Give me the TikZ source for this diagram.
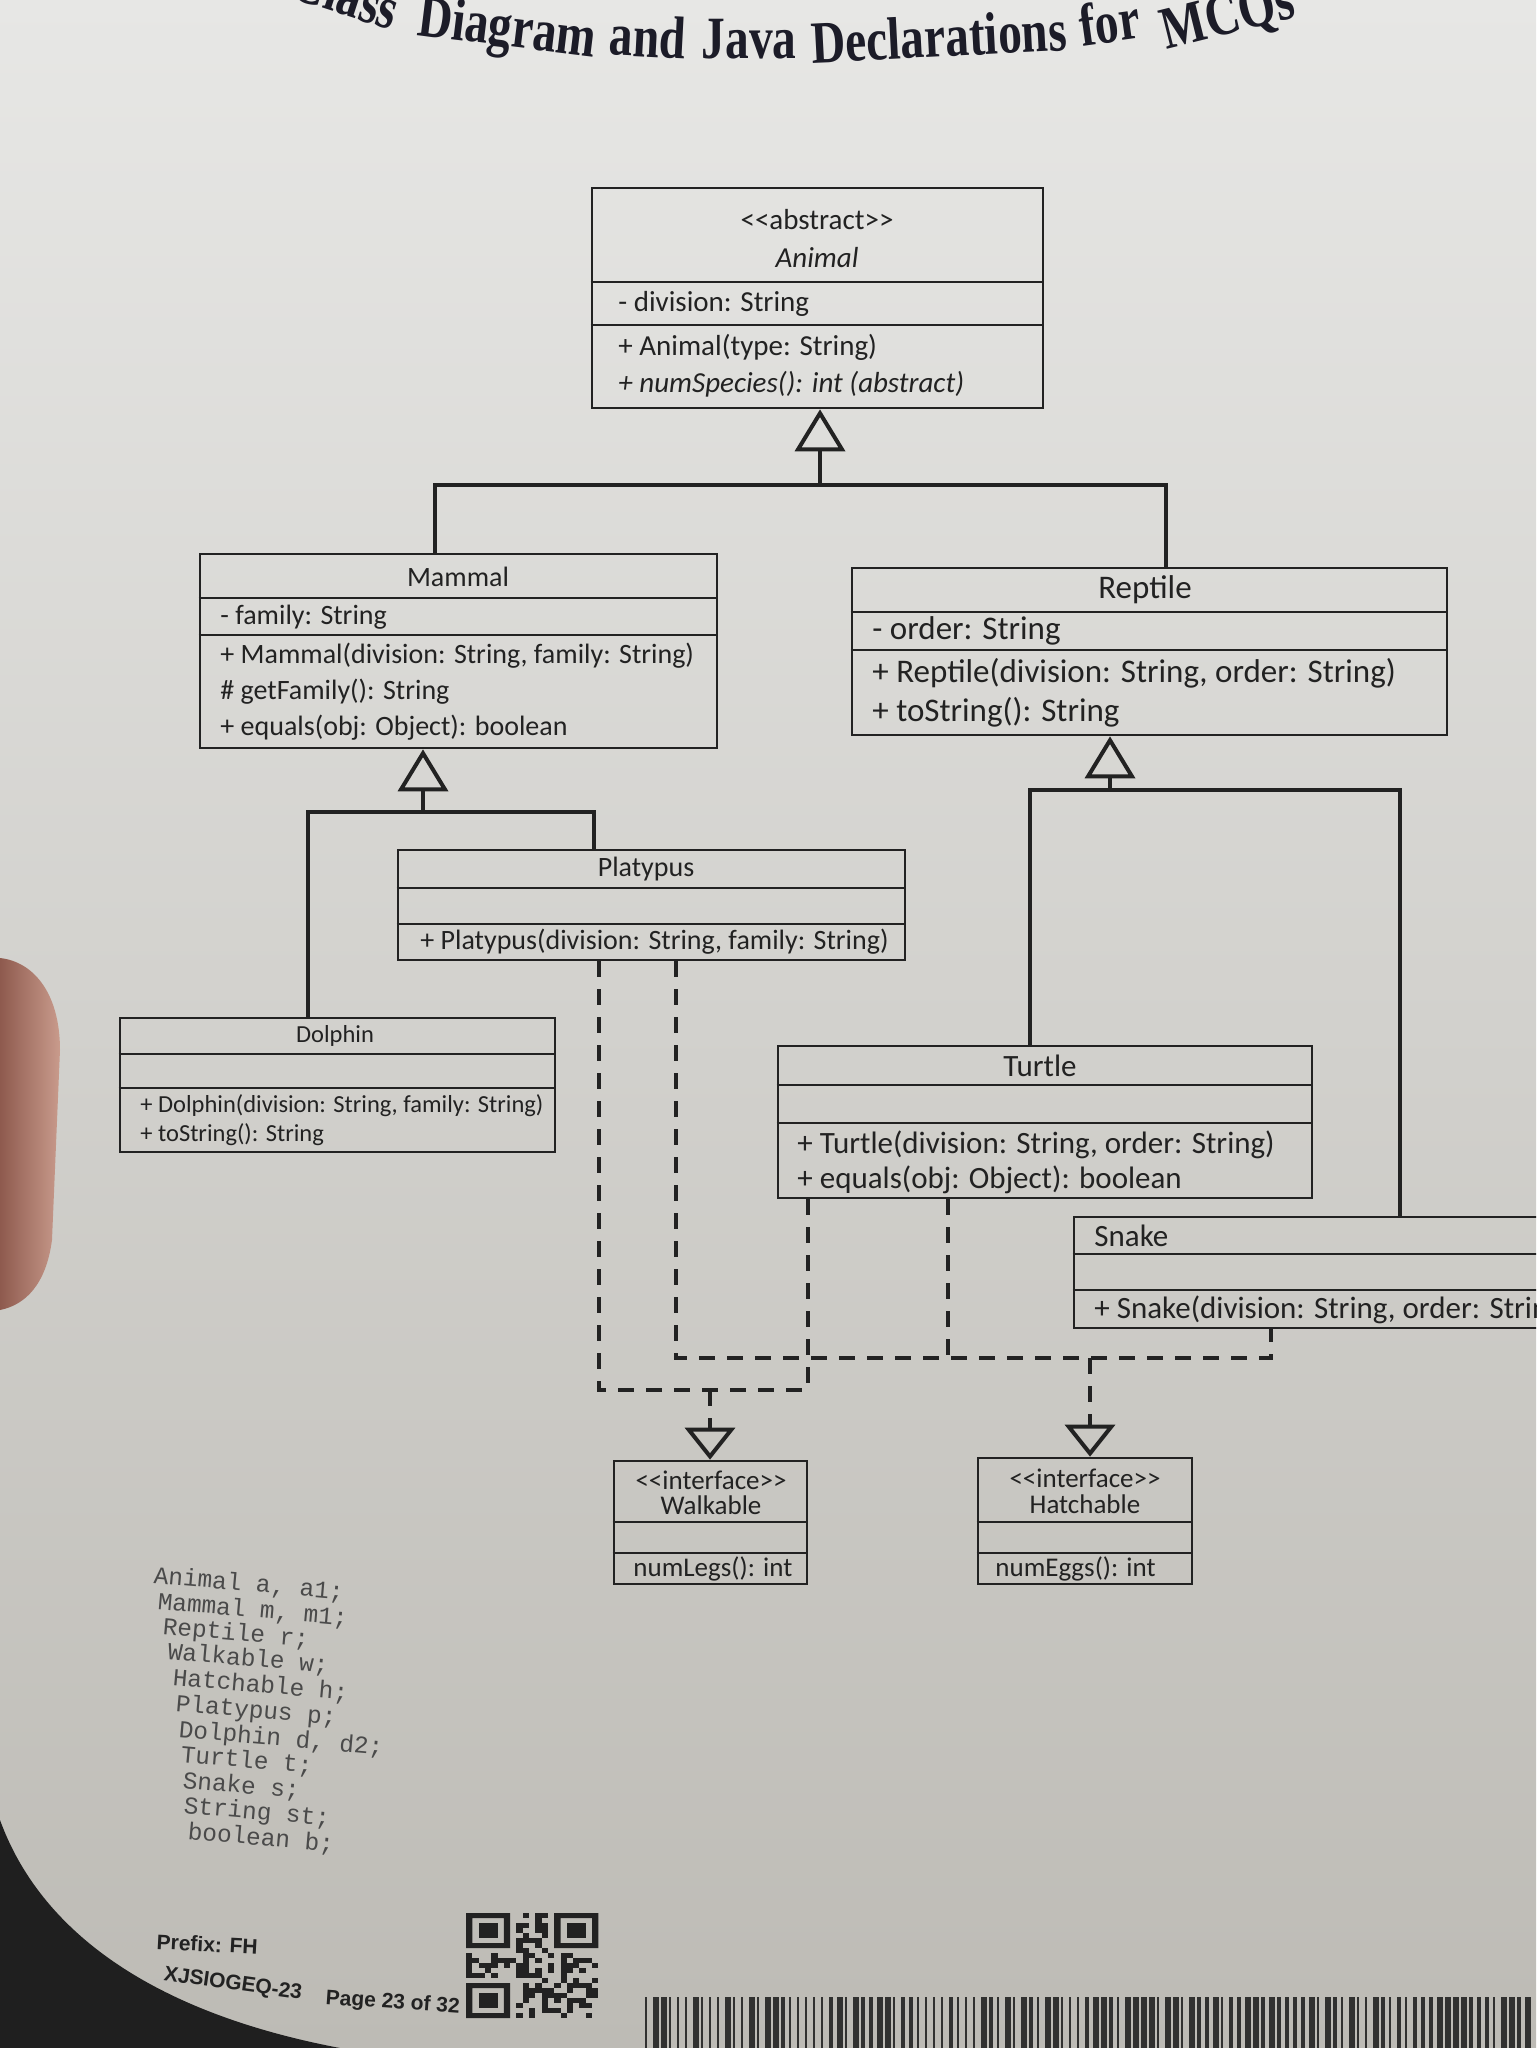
\documentclass[tikz,border=0pt]{standalone}
\usepackage{fontspec}
\setmainfont{Carlito}
\newfontfamily\titlefont[FakeStretch=0.79]{Liberation Serif}
\newfontfamily\footfont{Liberation Sans}
\newfontfamily\declfont{Liberation Mono}
\usetikzlibrary{arrows.meta,fit,calc}
\definecolor{ink}{HTML}{222222}
\definecolor{decl}{HTML}{4A4A4A}
\definecolor{paperTop}{HTML}{E7E7E5}
\definecolor{paperMid}{HTML}{DAD9D6}
\definecolor{paperBot}{HTML}{BDBBB5}
\definecolor{skinA}{HTML}{8E5A4E}
\definecolor{skinB}{HTML}{C99B8C}
\definecolor{titleink}{HTML}{1C1C28}
\newcommand\szAn{\fontsize{14.5pt}{17pt}\selectfont}
\newcommand\szMa{\fontsize{14pt}{17pt}\selectfont}
\newcommand\szRe{\fontsize{16.5pt}{19pt}\selectfont}
\newcommand\szPl{\fontsize{14pt}{17pt}\selectfont}
\newcommand\szDo{\fontsize{12.25pt}{15pt}\selectfont}
\newcommand\szTu{\fontsize{15.5pt}{18pt}\selectfont}
\newcommand\szIf{\fontsize{13.5pt}{16pt}\selectfont}
\newcommand\szTitle{\titlefont\bfseries\fontsize{30pt}{32pt}\selectfont}
\newcommand\szFoot{\footfont\bfseries\fontsize{10.5pt}{12pt}\selectfont}
\newcommand\szDecl{\declfont\fontsize{12.2pt}{14pt}\selectfont}
\newcommand\stereo[1]{<\kern0pt<#1>\kern0pt>}
\tikzset{
  cls/.style={draw=ink, line width=1.35pt, inner sep=0pt, fit={#1}},
  cline/.style={draw=ink, line width=1.35pt},
  conn/.style={draw=ink, line width=2pt},
  gen/.style={conn, arrows={-Triangle[open, length=21pt, width=25pt]}},
  real/.style={conn, dash pattern=on 8pt off 6pt},
  realtip/.style={arrows={-Triangle[open, length=16pt, width=25pt]}},
  row/.style={anchor=west, inner sep=0pt, text=ink},
  nm/.style={inner sep=0pt, text=ink},
  ttl/.style={anchor=base, inner sep=0pt, text=titleink, font=\szTitle},
  foot/.style={anchor=base west, inner sep=0pt, text=ink, font=\szFoot},
  dcl/.style={anchor=base west, inner sep=0pt, text=decl, font=\szDecl, rotate=-5},
}
\newcommand\sepline[2]{\draw[cline] (#1.west |- 0,#2) -- (#1.east |- 0,#2);}
\begin{document}
\begin{tikzpicture}[x=0.5pt,y=-0.5pt]
\useasboundingbox (0,0) rectangle (1536,2048);
\begin{scope}
\clip (0,0) rectangle (1536,2048);
% paper
\shade[top color=paperTop, middle color=paperMid, bottom color=paperBot] (0,0) rectangle (1536,2048);
% finger at left edge
\shade[left color=skinA, right color=skinB] (0,958) .. controls (35,962) and (60,995) .. (60,1050)
  -- (52,1240) .. controls (46,1285) and (25,1305) .. (0,1310) -- cycle;
% dark corner bottom left
\fill[black!88] (0,1820) .. controls (40,1930) and (150,2012) .. (340,2048) -- (0,2048) -- cycle;

% ---------- title ----------
\node[ttl, rotate=-18] (t1) at (340,14) {Class};
\node[ttl, rotate=-7] (t2) at (505,46) {Diagram};
\node[ttl, rotate=-3] (t3) at (647,57) {and};
\node[ttl] (t4) at (749,59) {Java};
\node[ttl, rotate=3] (t5) at (940,57) {Declarations};
\node[ttl, rotate=8] (t6) at (1112,42) {for};
\node[ttl, rotate=14] (t7) at (1232,33) {MCQs};

% ---------- Animal ----------
\node[cls={(592,188) (1043,408)}] (animal) {};
\node[nm, font=\szAn] (an-st) at (817,220) {\stereo{abstract}};
\node[nm, font=\szAn\itshape] (an-nm) at (817,258) {Animal};
\sepline{animal}{282}
\node[row, font=\szAn] (an-a1) at (618,304) {- division: String};
\sepline{animal}{325}
\node[row, font=\szAn] (an-o1) at (618,347) {+ Animal(type: String)};
\node[row, font=\szAn\itshape] (an-o2) at (618,384) {+ numSpecies(): int (abstract)};

% ---------- Mammal ----------
\node[cls={(200,554) (717,748)}] (mammal) {};
\node[nm, font=\szMa] (ma-nm) at (458,577) {Mammal};
\sepline{mammal}{598}
\node[row, font=\szMa] (ma-a1) at (220,617) {- family: String};
\sepline{mammal}{635}
\node[row, font=\szMa] (ma-o1) at (220,656) {+ Mammal(division: String, family: String)};
\node[row, font=\szMa] (ma-o2) at (220,692) {\# getFamily(): String};
\node[row, font=\szMa] (ma-o3) at (220,728) {+ equals(obj: Object): boolean};

% ---------- Reptile ----------
\node[cls={(852,568) (1447,735)}] (reptile) {};
\node[nm, font=\szRe] (re-nm) at (1145,590) {Reptile};
\sepline{reptile}{612}
\node[row, font=\szRe] (re-a1) at (872,631) {- order: String};
\sepline{reptile}{650}
\node[row, font=\szRe] (re-o1) at (872,673) {+ Reptile(division: String, order: String)};
\node[row, font=\szRe] (re-o2) at (872,712) {+ toString(): String};

% ---------- Platypus ----------
\node[cls={(398,850) (905,960)}] (platypus) {};
\node[nm, font=\szPl] (pl-nm) at (646,869) {Platypus};
\sepline{platypus}{888}
\sepline{platypus}{924}
\node[row, font=\szPl] (pl-o1) at (420,942) {+ Platypus(division: String, family: String)};

% ---------- Dolphin ----------
\node[cls={(120,1018) (555,1152)}] (dolphin) {};
\node[nm, font=\szDo] (do-nm) at (335,1036) {Dolphin};
\sepline{dolphin}{1054}
\sepline{dolphin}{1088}
\node[row, font=\szDo] (do-o1) at (140,1106) {+ Dolphin(division: String, family: String)};
\node[row, font=\szDo] (do-o2) at (140,1135) {+ toString(): String};

% ---------- Turtle ----------
\node[cls={(778,1046) (1312,1198)}] (turtle) {};
\node[nm, font=\szTu] (tu-nm) at (1040,1066) {Turtle};
\sepline{turtle}{1085}
\sepline{turtle}{1123}
\node[row, font=\szTu] (tu-o1) at (797,1145) {+ Turtle(division: String, order: String)};
\node[row, font=\szTu] (tu-o2) at (797,1180) {+ equals(obj: Object): boolean};

% ---------- Snake ----------
\node[cls={(1074,1217) (1660,1328)}] (snake) {};
\node[row, font=\szTu] (sn-nm) at (1094,1236) {Snake};
\sepline{snake}{1254}
\sepline{snake}{1290}
\node[row, font=\szTu] (sn-o1) at (1094,1310) {+ Snake(division: String, order: String)};

% ---------- Walkable ----------
\node[cls={(614,1461) (807,1584)}] (walkable) {};
\node[nm, font=\szIf] (wa-st) at (711,1480) {\stereo{interface}};
\node[nm, font=\szIf] (wa-nm) at (711,1505) {Walkable};
\sepline{walkable}{1522}
\sepline{walkable}{1553}
\node[row, font=\szIf] (wa-o1) at (633,1569) {numLegs(): int};

% ---------- Hatchable ----------
\node[cls={(978,1458) (1192,1584)}] (hatchable) {};
\node[nm, font=\szIf] (ha-st) at (1085,1478) {\stereo{interface}};
\node[nm, font=\szIf] (ha-nm) at (1085,1504) {Hatchable};
\sepline{hatchable}{1522}
\sepline{hatchable}{1553}
\node[row, font=\szIf] (ha-o1) at (995,1569) {numEggs(): int};

% ---------- generalisations ----------
\coordinate (gA) at (820,485);
\coordinate (gAl) at (435,485);
\coordinate (gAr) at (1166,485);
\draw[conn] (gAl |- mammal.north) -- (gAl) -- (gAr) -- (gAr |- reptile.north);
\draw[gen] (gA) -- (gA |- animal.south);

\coordinate (gM) at (423,812);
\coordinate (gMl) at (308,812);
\coordinate (gMr) at (594,812);
\draw[conn] (gMl |- dolphin.north) -- (gMl) -- (gMr) -- (gMr |- platypus.north);
\draw[gen] (gM) -- (gM |- mammal.south);

\coordinate (gR) at (1110,790);
\coordinate (gRl) at (1030,790);
\coordinate (gRr) at (1400,790);
\draw[conn] (gRl |- turtle.north) -- (gRl) -- (gRr) -- (gRr |- snake.north);
\draw[gen] (gR) -- (gR |- reptile.south);

% ---------- realisations ----------
\coordinate (wJ) at (710,1390);
\coordinate (hJ) at (1090,1358);
\coordinate (pW) at (599,0);
\coordinate (pH) at (676,0);
\coordinate (tW) at (808,0);
\coordinate (tH) at (948,0);
\coordinate (sH) at (1271,0);
\draw[real] (pW |- platypus.south) -- (pW |- wJ) -- (tW |- wJ);
\draw[real] (tW |- turtle.south) -- (tW |- wJ);
\draw[real, realtip] (wJ) -- (wJ |- walkable.north);
\draw[real] (pH |- platypus.south) -- (pH |- hJ) -- (sH |- hJ) -- (sH |- snake.south);
\draw[real] (tH |- turtle.south) -- (tH |- hJ);
\draw[real, realtip] (hJ) -- (hJ |- hatchable.north);

% ---------- declarations ----------
\node[dcl] (d1) at (153,1583) {Animal a, a1;};
\node[dcl] (d2) at (157,1609) {Mammal m, m1;};
\node[dcl] (d3) at (162,1634) {Reptile r;};
\node[dcl] (d4) at (167,1659) {Walkable w;};
\node[dcl] (d5) at (172,1685) {Hatchable h;};
\node[dcl] (d6) at (175,1711) {Platypus p;};
\node[dcl] (d7) at (178,1737) {Dolphin d, d2;};
\node[dcl] (d8) at (180,1762) {Turtle t;};
\node[dcl] (d9) at (182,1788) {Snake s;};
\node[dcl] (d10) at (183,1813) {String st;};
\node[dcl] (d11) at (187,1839) {boolean b;};

% ---------- footer ----------
\node[foot, rotate=-3] (f1) at (156,1949) {Prefix: FH};
\node[foot, rotate=-8] (f2) at (163,1980) {XJSIOGEQ-23};
\node[foot, rotate=-4] (f3) at (325,2004) {Page 23 of 32};

% QR code
\begin{scope}[shift={(466,1913)}, xscale=6.3, yscale=5.0]
  \pgfmathsetseed{4242}
  \foreach \qi in {0,...,20}{
    \foreach \qj in {0,...,20}{
      \pgfmathtruncatemacro\qrskip{(\qi<8 && \qj<8) || (\qi>12 && \qj<8) || (\qi<8 && \qj>12)}
      \pgfmathtruncatemacro\qron{rnd<0.5}
      \ifnum\qrskip=0 \ifnum\qron=1 \fill[ink] (\qi,\qj) rectangle ++(1,1); \fi\fi
    }
  }
  \foreach \qx/\qy in {0/0, 14/0, 0/14}{
    \fill[ink, even odd rule] (\qx,\qy) rectangle ++(7,7) (\qx+1,\qy+1) rectangle ++(5,5);
    \fill[ink] (\qx+2,\qy+2) rectangle ++(3,3);
  }
\end{scope}

% barcode
\pgfmathsetseed{777}
\foreach \bk in {0,...,110}{
  \pgfmathsetmacro\bx{645+\bk*8}
  \pgfmathsetmacro\bw{random(1,3)*2}
  \fill[ink, opacity=0.9] (\bx,1997) rectangle ++(\bw,60);
}
\end{scope}
\end{tikzpicture}
\end{document}
